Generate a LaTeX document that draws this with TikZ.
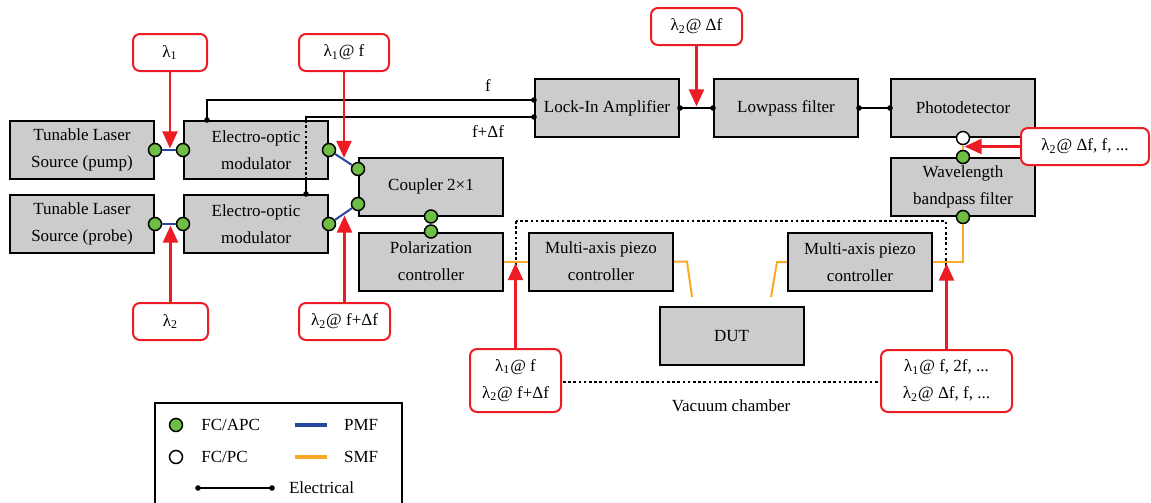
\documentclass[tikz,border=0pt]{standalone}
\usepackage{fontspec}
\setmainfont{Liberation Serif}
\usepackage{xcolor}
\usepackage{tikz}
\usetikzlibrary{arrows.meta, positioning, calc, backgrounds}
\definecolor{boxgray}{RGB}{204, 204, 204}
\definecolor{labelred}{RGB}{237, 28, 36}
\definecolor{pmfblue}{RGB}{40, 70, 160}
\definecolor{smforange}{RGB}{250, 170, 40}
\definecolor{apcgreen}{RGB}{110, 190, 70}

\begin{document}
\begin{tikzpicture}[
    x=0.5pt, y=-0.5pt,
    font=\fontsize{8.5}{13.5}\selectfont,
    devbox/.style={rectangle, draw=black, line width=1pt, fill=boxgray,
                   minimum width=72pt, minimum height=29pt, inner sep=0pt, align=center},
    labelbox/.style={rectangle, rounded corners=3.5pt, draw=labelred, line width=1pt,
                     fill=white, minimum height=18.5pt, inner sep=0pt, align=center},
    apc/.style={circle, draw=black, line width=0.75pt, fill=apcgreen, minimum size=6.5pt, inner sep=0pt},
    pc/.style={apc, fill=white},
    pmf/.style={draw=pmfblue, line width=1pt},
    smf/.style={draw=smforange, line width=1pt},
    elec/.style={draw=black, line width=0.85pt},
    edot/.style={circle, fill=black, minimum size=2.8pt, inner sep=0pt},
    sigarrow/.style={draw=labelred, line width=1.1pt, -{Triangle[length=8.5pt, width=7.5pt]}, shorten >=0.8pt},
    chamber/.style={draw=black, line width=0.85pt, dash pattern=on 1.3pt off 1.3pt}
]
    \useasboundingbox (0,0) rectangle (1151,503);

    % devices
    \node[devbox] (tls1) at (82, 150) {Tunable Laser\\Source (pump)};
    \node[devbox] (eom1) at (256, 150) {Electro-optic\\modulator};
    \node[devbox] (tls2) at (82, 224) {Tunable Laser\\Source (probe)};
    \node[devbox] (eom2) at (256, 224) {Electro-optic\\modulator};
    \node[devbox] (cpl) at (431, 186.5) {Coupler 2×1};
    \node[devbox] (pol) at (431, 261.5) {Polarization\\controller};
    \node[devbox] (pz1) at (601, 261.5) {Multi-axis piezo\\controller};
    \node[devbox] (dut) at (731.5, 336) {DUT};
    \node[devbox] (lia) at (607, 108) {Lock-In Amplifier};
    \node[devbox] (lpf) at (786, 108) {Lowpass filter};
    \node[devbox] (pd) at (963, 108) {Photodetector};
    \node[devbox] (bpf) at (963, 187) {Wavelength\\bandpass filter};
    \node[devbox] (pz2) at (860, 262) {Multi-axis piezo\\controller};

    % connectors
    \node[apc] (c1) at (tls1.east) {};
    \node[apc] (c2) at (eom1.west) {};
    \node[apc] (c3) at (eom1.east) {};
    \node[apc] (c4) at ($(cpl.west)+(0,-17.5)$) {};
    \node[apc] (c5) at (tls2.east) {};
    \node[apc] (c6) at (eom2.west) {};
    \node[apc] (c7) at (eom2.east) {};
    \node[apc] (c8) at ($(cpl.west)+(0,17.5)$) {};
    \node[apc] (c9) at (cpl.south) {};
    \node[apc] (c10) at (pol.north) {};
    \node[pc] (c11) at (pd.south) {};
    \node[apc] (c12) at (bpf.north) {};
    \node[apc] (c13) at (bpf.south) {};

    % fibers
    \draw[pmf] (c1) -- (c2);
    \draw[pmf] (c3) -- (c4);
    \draw[pmf] (c5) -- (c6);
    \draw[pmf] (c7) -- (c8);
    \draw[pmf] (c9) -- (c10);
    \coordinate (f1) at (692, 297);
    \coordinate (f2) at (771, 297);
    \draw[smf] (pol.east) -- (pz1.west);
    \draw[smf] (pz1.east) -- +(13,0) -- (f1);
    \draw[smf] (f2) -- (777, 262) -- (pz2.west);
    \draw[smf] (pz2.east) -| (c13);
    \draw[smf] (c11) -- (c12);

    % electrical
    \coordinate (e1) at ($(eom1.north)+(-49,0)$);
    \coordinate (e2) at ($(eom2.north)+(50,0)$);
    \coordinate (li1) at ($(lia.west)+(0,-8)$);
    \coordinate (li2) at ($(lia.west)+(0,9)$);
    \draw[elec] (e1) |- (li1);
    \begin{scope}[on background layer]
        \draw[elec] (e2) |- (li2);
    \end{scope}
    \draw[elec, dash pattern=on 1.3pt off 1.3pt] (e2 |- eom1.south) -- (e2 |- eom1.north);
    \draw[elec] (lia) -- (lpf);
    \draw[elec] (lpf) -- (pd);
    \foreach \p in {e1, e2, li1, li2, lia.east, lpf.west, lpf.east, pd.west}
        \node[edot] at (\p) {};
    \node (ff) at (488, 86) {f};
    \node (fdf) at (488, 132) {f+Δf};

    % vacuum chamber
    \coordinate (vc1) at (516, 221);
    \coordinate (vc2) at (946, 382);
    \begin{scope}[on background layer]
        \draw[chamber] (vc1) rectangle (vc2);
    \end{scope}
    \node (vac) at (731, 406) {Vacuum chamber};

    % signals
    \node[labelbox, minimum width=37pt] (l1) at (170, 52.5) {λ\textsubscript{1}};
    \node[labelbox, minimum width=45pt] (l1f) at (344, 52.5) {λ\textsubscript{1}@ f};
    \node[labelbox, minimum width=37.5pt] (l2) at (170.5, 321.5) {λ\textsubscript{2}};
    \node[labelbox, minimum width=45.5pt] (l2f) at (344.5, 321.5) {λ\textsubscript{2}@ f+Δf};
    \node[labelbox, minimum width=45.5pt] (l2d) at (696.5, 26.5) {λ\textsubscript{2}@ Δf};
    \node[labelbox, minimum width=64pt] (l2dr) at (1085, 146.5) {λ\textsubscript{2}@ Δf, f, ...};
    \node[labelbox, minimum width=45.5pt, minimum height=31.5pt] (lin) at (515.5, 380.5)
        {λ\textsubscript{1}@ f\\λ\textsubscript{2}@ f+Δf};
    \node[labelbox, minimum width=65.5pt, minimum height=31pt] (lout) at (946.5, 381)
        {λ\textsubscript{1}@ f, 2f, ...\\λ\textsubscript{2}@ Δf, f, ...};

    \coordinate (j1) at ($(c3)!0.5!(c4)$);
    \coordinate (j2) at ($(c7)!0.5!(c8)$);
    \draw[sigarrow] (l1) -- (l1 |- c1);
    \draw[sigarrow] (l1f) -- (l1f |- j1);
    \draw[sigarrow] (l2) -- (l2 |- c5);
    \draw[sigarrow] (l2f) -- (l2f |- j2);
    \draw[sigarrow] (l2d) -- (l2d |- lia.east);
    \draw[sigarrow] (l2dr) -- (l2dr -| c11);
    \draw[sigarrow] (lin) -- (lin |- pol.east);
    \draw[sigarrow] (lout) -- (lout |- pz2.east);

    % legend
    \draw[line width=1pt] (155, 403) rectangle (402, 506);
    \node[apc] (k1) at (176, 425) {};
    \node[pc] (k2) at (176, 457) {};
    \node[right=5.5pt of k1] (t1) {FC/APC};
    \node[right=5.5pt of k2] (t2) {FC/PC};
    \coordinate (k3a) at (295, 425);
    \coordinate (k3b) at (327, 425);
    \coordinate (k4a) at (295, 457);
    \coordinate (k4b) at (327, 457);
    \draw[pmf, line width=1.6pt] (k3a) -- (k3b);
    \draw[smf, line width=1.6pt] (k4a) -- (k4b);
    \node[right=5pt of k3b] (t3) {PMF};
    \node[right=5pt of k4b] (t4) {SMF};
    \coordinate (k5a) at (198, 488);
    \coordinate (k5b) at (272, 488);
    \draw[elec] (k5a) -- (k5b);
    \node[edot] at (k5a) {};
    \node[edot] at (k5b) {};
    \node[right=5pt of k5b] (t5) {Electrical};
\end{tikzpicture}
\end{document}
